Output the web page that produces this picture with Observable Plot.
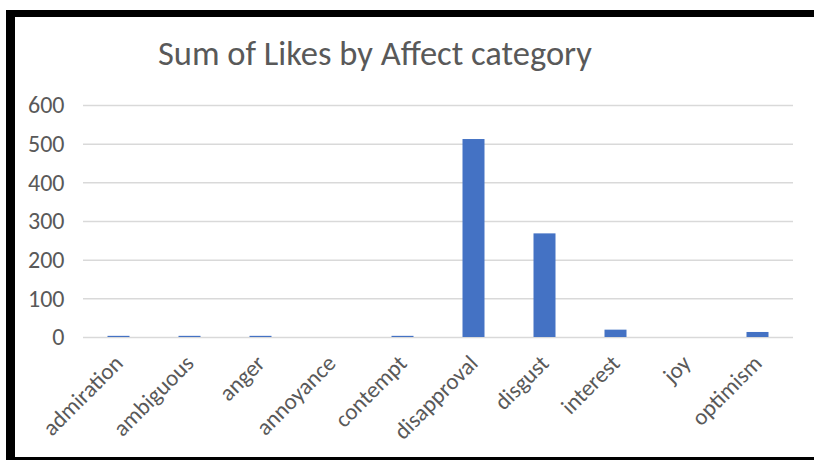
<!DOCTYPE html>
<html>
<head>
<meta charset="utf-8">
<script src="https://cdn.jsdelivr.net/npm/d3@7"></script>
<script src="https://cdn.jsdelivr.net/npm/@observablehq/plot@0.6"></script>
<style>
  html, body { margin: 0; padding: 0; background: #fff; width: 814px; height: 460px; overflow: hidden; }
  #wrap { position: relative; width: 814px; height: 460px; }
  #frame { position: absolute; left: 6px; top: 10px; width: 830px; height: 450px; box-sizing: border-box;
           border-left: 9px solid #000; border-top: 7px solid #000; border-bottom: 3px solid #000; pointer-events: none; z-index: 2; }
  #title { position: absolute; left: 158px; top: 33px; font-family: Carlito, Lato, "Open Sans", sans-serif;
           font-size: 34.5px; line-height: 40px; color: #595959; white-space: nowrap; z-index: 1; }
  #chart { position: absolute; left: 0; top: 0; }
</style>
</head>
<body>
<div id="wrap">
  <div id="title">Sum of Likes by Affect category</div>
  <div id="chart"></div>
  <div id="frame"></div>
</div>
<script>
const categories = ["admiration", "ambiguous", "anger", "annoyance", "contempt", "disapproval", "disgust", "interest", "joy", "optimism"];
const likes = [3, 3, 3, 0, 3, 512, 268, 19, 0, 13];
const yTicks = [0, 100, 200, 300, 400, 500, 600];

const data = categories.map((c, i) => ({category: c, likes: likes[i]}));

const plot = Plot.plot({
  width: 814,
  height: 460,
  marginTop: 105,
  marginBottom: 123,
  marginLeft: 83,
  marginRight: 21,
  style: { fontFamily: "Carlito, Lato, 'Open Sans', sans-serif", background: "transparent", overflow: "visible" },
  x: { domain: categories, padding: 0, label: null },
  y: { domain: [0, 600], ticks: yTicks, label: null },
  marks: [
    Plot.ruleY(yTicks, { stroke: "#d9d9d9", strokeWidth: 1.5 }),
    Plot.barY(data, { x: "category", y: "likes", fill: "#4472C4", insetLeft: 24.5, insetRight: 24.5 }),
    Plot.axisY({ ticks: yTicks, tickSize: 0, tickPadding: 19, fontSize: 24, color: "#595959", label: null }),
    Plot.axisX({ tickSize: 0, tickPadding: 22, tickRotate: -45, fontSize: 23, color: "#595959", label: null })
  ]
});
document.getElementById("chart").appendChild(plot);
</script>
</body>
</html>
